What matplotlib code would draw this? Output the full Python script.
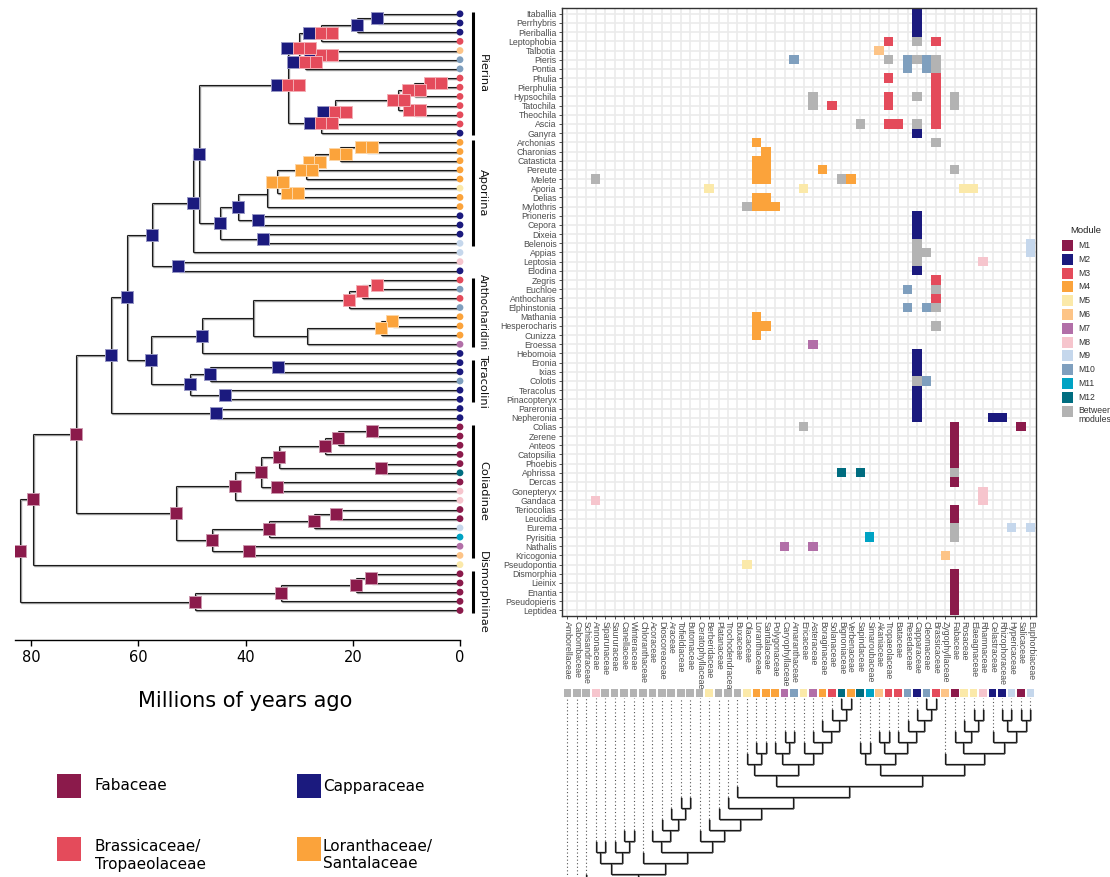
import matplotlib
matplotlib.use('Agg')
import matplotlib.pyplot as plt
import matplotlib.transforms as mtransforms
from matplotlib.collections import LineCollection
from matplotlib.patches import Rectangle

W, H = 1110, 877

# module colours
modules = ['M1', 'M2', 'M3', 'M4', 'M5', 'M6', 'M7', 'M8', 'M9', 'M10', 'M11', 'M12', 'B']
module_labels = ['M1', 'M2', 'M3', 'M4', 'M5', 'M6', 'M7', 'M8', 'M9', 'M10', 'M11', 'M12',
                 'Between\nmodules']
module_colors = ['#8b1a4b', '#1b1a7e', '#e44b5b', '#fba33b', '#fbe9a9', '#fdc487', '#b26fa8',
                 '#f6c5cd', '#c5d7ec', '#7f9fbe', '#00a3c4', '#006d80', '#b3b3b3']
mcol = dict(zip(modules, module_colors))

# butterfly genera (rows) and their module
genera = ['Itaballia', 'Perrhybris', 'Pieriballia', 'Leptophobia', 'Talbotia', 'Pieris', 'Pontia',
          'Phulia', 'Pierphulia', 'Hypsochila', 'Tatochila', 'Theochila', 'Ascia', 'Ganyra',
          'Archonias', 'Charonias', 'Catasticta', 'Pereute', 'Melete', 'Aporia', 'Delias',
          'Mylothris', 'Prioneris', 'Cepora', 'Dixeia', 'Belenois', 'Appias', 'Leptosia', 'Elodina',
          'Zegris', 'Euchloe', 'Anthocharis', 'Elphinstonia', 'Mathania', 'Hesperocharis', 'Cunizza',
          'Eroessa', 'Hebomoia', 'Eronia', 'Ixias', 'Colotis', 'Teracolus', 'Pinacopteryx',
          'Pareronia', 'Nepheronia', 'Colias', 'Zerene', 'Anteos', 'Catopsilia', 'Phoebis',
          'Aphrissa', 'Dercas', 'Gonepteryx', 'Gandaca', 'Teriocolias', 'Leucidia', 'Eurema',
          'Pyrisitia', 'Nathalis', 'Kricogonia', 'Pseudopontia', 'Dismorphia', 'Lieinix', 'Enantia',
          'Pseudopieris', 'Leptidea']
genus_module = ['M2', 'M2', 'M2', 'M3', 'M6', 'M10', 'M10', 'M3', 'M3', 'M3', 'M3', 'M3', 'M3', 'M2',
                'M4', 'M4', 'M4', 'M4', 'M4', 'M5', 'M4', 'M4', 'M2', 'M2', 'M2', 'M9', 'M9', 'M8', 'M2',
                'M3', 'M10', 'M3', 'M10', 'M4', 'M4', 'M4', 'M7', 'M2', 'M2', 'M2', 'M10', 'M2', 'M2',
                'M2', 'M2',
                'M1', 'M1', 'M1', 'M1', 'M1', 'M12', 'M1', 'M8', 'M8', 'M1', 'M1', 'M9', 'M11', 'M7',
                'M6', 'M5',
                'M1', 'M1', 'M1', 'M1', 'M1']

# plant families (columns) and their module
families = ['Amborellaceae', 'Cabombaceae', 'Schisandraceae', 'Annonaceae', 'Siparunaceae',
            'Saururaceae', 'Canellaceae', 'Winteraceae', 'Chloranthaceae', 'Acoraceae',
            'Dioscoreaceae', 'Araceae', 'Tofieldiaceae', 'Butomaceae', 'Ceratophyllaceae',
            'Berberidaceae', 'Platanaceae', 'Trochodendraceae', 'Buxaceae', 'Olacaceae',
            'Loranthaceae', 'Santalaceae', 'Polygonaceae', 'Caryophyllaceae', 'Amaranthaceae',
            'Ericaceae', 'Asteraceae', 'Boraginaceae', 'Solanaceae', 'Bignoniaceae', 'Verbenaceae',
            'Sapindaceae', 'Simaroubaceae', 'Akaniaceae', 'Tropaeolaceae', 'Bataceae', 'Resedaceae',
            'Capparaceae', 'Cleomaceae', 'Brassicaceae', 'Zygophyllaceae', 'Fabaceae', 'Rosaceae',
            'Elaeagnaceae', 'Rhamnaceae', 'Celastraceae', 'Rhizophoraceae', 'Hypericaceae',
            'Salicaceae', 'Euphorbiaceae']
family_module = ['B', 'B', 'B', 'M8', 'B', 'B', 'B', 'B', 'B', 'B', 'B', 'B', 'B', 'B', 'B',
                 'M5', 'B', 'B', 'B', 'M5', 'M4', 'M4', 'M4', 'M7', 'M10', 'M5', 'M7', 'M4', 'M3',
                 'M12', 'M4', 'M12', 'M11', 'M6', 'M3', 'M3', 'M10', 'M2', 'M10', 'M3', 'M6', 'M1',
                 'M5', 'M5', 'M8', 'M2', 'M2', 'M9', 'M1', 'M9']

# interactions (genus, family) by module
links_m1 = [('Colias', 'Fabaceae'), ('Colias', 'Salicaceae'), ('Zerene', 'Fabaceae'),
            ('Anteos', 'Fabaceae'), ('Catopsilia', 'Fabaceae'), ('Phoebis', 'Fabaceae'),
            ('Dercas', 'Fabaceae'), ('Teriocolias', 'Fabaceae'), ('Leucidia', 'Fabaceae'),
            ('Dismorphia', 'Fabaceae'), ('Lieinix', 'Fabaceae'), ('Enantia', 'Fabaceae'),
            ('Pseudopieris', 'Fabaceae'), ('Leptidea', 'Fabaceae')]
links_m2 = [('Itaballia', 'Capparaceae'), ('Perrhybris', 'Capparaceae'), ('Pieriballia', 'Capparaceae'),
            ('Ganyra', 'Capparaceae'), ('Prioneris', 'Capparaceae'), ('Cepora', 'Capparaceae'),
            ('Dixeia', 'Capparaceae'), ('Elodina', 'Capparaceae'), ('Hebomoia', 'Capparaceae'),
            ('Eronia', 'Capparaceae'), ('Ixias', 'Capparaceae'), ('Teracolus', 'Capparaceae'),
            ('Pinacopteryx', 'Capparaceae'), ('Pareronia', 'Capparaceae'),
            ('Nepheronia', 'Capparaceae'), ('Nepheronia', 'Celastraceae'),
            ('Nepheronia', 'Rhizophoraceae')]
links_m3 = [('Leptophobia', 'Tropaeolaceae'), ('Leptophobia', 'Brassicaceae'),
            ('Phulia', 'Tropaeolaceae'), ('Phulia', 'Brassicaceae'), ('Pierphulia', 'Brassicaceae'),
            ('Hypsochila', 'Tropaeolaceae'), ('Hypsochila', 'Brassicaceae'),
            ('Tatochila', 'Solanaceae'), ('Tatochila', 'Tropaeolaceae'), ('Tatochila', 'Brassicaceae'),
            ('Theochila', 'Brassicaceae'), ('Ascia', 'Tropaeolaceae'), ('Ascia', 'Bataceae'),
            ('Ascia', 'Brassicaceae'), ('Zegris', 'Brassicaceae'), ('Anthocharis', 'Brassicaceae')]
links_m4 = [('Archonias', 'Loranthaceae'), ('Charonias', 'Santalaceae'),
            ('Catasticta', 'Loranthaceae'), ('Catasticta', 'Santalaceae'),
            ('Pereute', 'Loranthaceae'), ('Pereute', 'Santalaceae'), ('Pereute', 'Boraginaceae'),
            ('Melete', 'Loranthaceae'), ('Melete', 'Santalaceae'), ('Melete', 'Verbenaceae'),
            ('Delias', 'Loranthaceae'), ('Delias', 'Santalaceae'),
            ('Mylothris', 'Loranthaceae'), ('Mylothris', 'Santalaceae'), ('Mylothris', 'Polygonaceae'),
            ('Mathania', 'Loranthaceae'), ('Hesperocharis', 'Loranthaceae'),
            ('Hesperocharis', 'Santalaceae'), ('Cunizza', 'Loranthaceae')]
links_m5 = [('Aporia', 'Berberidaceae'), ('Aporia', 'Ericaceae'), ('Aporia', 'Rosaceae'),
            ('Aporia', 'Elaeagnaceae'), ('Pseudopontia', 'Olacaceae')]
links_m6 = [('Talbotia', 'Akaniaceae'), ('Kricogonia', 'Zygophyllaceae')]
links_m7 = [('Eroessa', 'Asteraceae'), ('Nathalis', 'Caryophyllaceae'), ('Nathalis', 'Asteraceae')]
links_m8 = [('Leptosia', 'Rhamnaceae'), ('Gonepteryx', 'Rhamnaceae'), ('Gandaca', 'Annonaceae'),
            ('Gandaca', 'Rhamnaceae')]
links_m9 = [('Belenois', 'Euphorbiaceae'), ('Appias', 'Euphorbiaceae'), ('Eurema', 'Hypericaceae'),
            ('Eurema', 'Euphorbiaceae')]
links_m10 = [('Pieris', 'Amaranthaceae'), ('Pieris', 'Resedaceae'), ('Pieris', 'Cleomaceae'),
             ('Pontia', 'Resedaceae'), ('Pontia', 'Cleomaceae'), ('Euchloe', 'Resedaceae'),
             ('Elphinstonia', 'Resedaceae'), ('Elphinstonia', 'Cleomaceae'), ('Colotis', 'Cleomaceae')]
links_m11 = [('Pyrisitia', 'Simaroubaceae')]
links_m12 = [('Aphrissa', 'Bignoniaceae'), ('Aphrissa', 'Sapindaceae')]
links_between = [('Leptophobia', 'Capparaceae'), ('Pieris', 'Tropaeolaceae'), ('Pieris', 'Capparaceae'),
                 ('Pieris', 'Brassicaceae'), ('Pontia', 'Brassicaceae'), ('Hypsochila', 'Asteraceae'),
                 ('Hypsochila', 'Capparaceae'), ('Hypsochila', 'Fabaceae'), ('Tatochila', 'Asteraceae'),
                 ('Tatochila', 'Fabaceae'), ('Ascia', 'Sapindaceae'), ('Ascia', 'Capparaceae'),
                 ('Archonias', 'Brassicaceae'), ('Pereute', 'Fabaceae'), ('Melete', 'Annonaceae'),
                 ('Melete', 'Bignoniaceae'), ('Mylothris', 'Olacaceae'), ('Belenois', 'Capparaceae'),
                 ('Appias', 'Capparaceae'), ('Appias', 'Cleomaceae'), ('Leptosia', 'Capparaceae'),
                 ('Euchloe', 'Brassicaceae'), ('Elphinstonia', 'Brassicaceae'),
                 ('Hesperocharis', 'Brassicaceae'), ('Colotis', 'Capparaceae'), ('Colias', 'Ericaceae'),
                 ('Aphrissa', 'Fabaceae'), ('Eurema', 'Fabaceae'), ('Pyrisitia', 'Fabaceae')]
links_by_module = [links_m1, links_m2, links_m3, links_m4, links_m5, links_m6, links_m7, links_m8,
                   links_m9, links_m10, links_m11, links_m12, links_between]

# butterfly phylogeny: (age in Myr, children, ancestral module squares)
n1 = (15.5, ['Itaballia', 'Perrhybris'], ['M2'])
n2 = (19.3, [n1, 'Pieriballia'], ['M2'])
n3 = (26.0, [n2, 'Leptophobia'], ['M2', 'M3', 'M3'])
n56 = (25.9, ['Talbotia', 'Pieris'], ['M2', 'M3', 'M3'])
n567 = (29.0, [n56, 'Pontia'], ['M2', 'M3', 'M3'])
npier1 = (30.1, [n3, n567], ['M2', 'M3', 'M3'])
l1 = (4.6, ['Phulia', 'Pierphulia'], ['M3', 'M3'])
l2 = (8.6, [l1, 'Hypsochila'], ['M3', 'M3'])
l3 = (8.5, ['Tatochila', 'Theochila'], ['M3', 'M3'])
l4 = (11.5, [l2, l3], ['M3', 'M3'])
l5 = (23.4, [l4, 'Ascia'], ['M2', 'M3', 'M3'])
l6 = (25.9, [l5, 'Ganyra'], ['M2', 'M3', 'M3'])
pierina = (32.1, [npier1, l6], ['M2', 'M3', 'M3'])
a1 = (17.5, ['Archonias', 'Charonias'], ['M4', 'M4'])
a2 = (22.3, [a1, 'Catasticta'], ['M4', 'M4'])
a3 = (27.1, [a2, 'Pereute'], ['M4', 'M4'])
a4 = (28.7, [a3, 'Melete'], ['M4', 'M4'])
a5 = (31.2, ['Aporia', 'Delias'], ['M4', 'M4'])
a6 = (34.1, [a4, a5], ['M4', 'M4'])
a7 = (36.1, [a6, 'Mylothris'], [])
a8 = (37.7, ['Prioneris', 'Cepora'], ['M2'])
a9 = (41.5, [a7, a8], ['M2'])
a10 = (36.7, ['Dixeia', 'Belenois'], ['M2'])
a11 = (44.7, [a9, a10], ['M2'])
nx = (48.7, [pierina, a11], ['M2'])
ny = (49.9, [nx, 'Appias'], ['M2'])
nle = (52.6, ['Leptosia', 'Elodina'], ['M2'])
nz = (57.5, [ny, nle], ['M2'])
h1 = (15.4, ['Zegris', 'Euchloe'], ['M3'])
h2 = (18.3, [h1, 'Anthocharis'], ['M3'])
h3 = (20.7, [h2, 'Elphinstonia'], ['M3'])
h4 = (12.7, ['Mathania', 'Hesperocharis'], ['M4'])
h5 = (14.7, [h4, 'Cunizza'], ['M4'])
h6 = (28.5, [h5, 'Eroessa'], [])
h7 = (38.6, [h3, h6], [])
h8 = (48.1, [h7, 'Hebomoia'], ['M2'])
t1 = (34.0, ['Eronia', 'Ixias'], ['M2'])
t2 = (46.7, [t1, 'Colotis'], ['M2'])
t3 = (43.8, ['Teracolus', 'Pinacopteryx'], ['M2'])
t4 = (50.4, [t2, t3], ['M2'])
nv = (57.6, [h8, t4], ['M2'])
nw = (62.2, [nz, nv], ['M2'])
npn = (45.5, ['Pareronia', 'Nepheronia'], ['M2'])
nu = (65.1, [nw, npn], ['M2'])
c1 = (16.4, ['Colias', 'Zerene'], ['M1'])
c2 = (22.8, [c1, 'Anteos'], ['M1'])
c3 = (25.2, [c2, 'Catopsilia'], ['M1'])
c4 = (14.7, ['Phoebis', 'Aphrissa'], ['M1'])
c5 = (33.7, [c3, c4], ['M1'])
c6 = (34.1, ['Dercas', 'Gonepteryx'], ['M1'])
c7 = (37.1, [c5, c6], ['M1'])
c8 = (41.9, [c7, 'Gandaca'], ['M1'])
c9 = (23.1, ['Teriocolias', 'Leucidia'], ['M1'])
c10 = (27.2, [c9, 'Eurema'], ['M1'])
c11 = (35.6, [c10, 'Pyrisitia'], ['M1'])
c12 = (39.4, ['Nathalis', 'Kricogonia'], ['M1'])
c13 = (46.3, [c11, c12], ['M1'])
coliadinae = (53.0, [c8, c13], ['M1'])
ns = (71.6, [nu, coliadinae], ['M1'])
nr = (79.6, [ns, 'Pseudopontia'], ['M1'])
d1 = (16.6, ['Dismorphia', 'Lieinix'], ['M1'])
d2 = (19.4, [d1, 'Enantia'], ['M1'])
d3 = (33.4, [d2, 'Pseudopieris'], ['M1'])
d4 = (49.4, [d3, 'Leptidea'], ['M1'])
butterfly_tree = (82.1, [nr, d4], ['M1'])

clade_names = ['Pierina', 'Aporiina', 'Anthocharidini', 'Teracolini', 'Coliadinae', 'Dismorphiinae']
clade_first = ['Itaballia', 'Archonias', 'Zegris', 'Eronia', 'Colias', 'Dismorphia']
clade_last = ['Ganyra', 'Belenois', 'Eroessa', 'Pinacopteryx', 'Kricogonia', 'Leptidea']

# plant phylogeny (cladogram)
asterids = ('Ericaceae', ('Asteraceae', ('Boraginaceae', ('Solanaceae', ('Bignoniaceae', 'Verbenaceae')))))
caryo = ('Polygonaceae', ('Caryophyllaceae', 'Amaranthaceae'))
santal = ('Olacaceae', ('Loranthaceae', 'Santalaceae'))
brassicales = (('Akaniaceae', 'Tropaeolaceae'),
               ('Bataceae', ('Resedaceae', ('Capparaceae', ('Cleomaceae', 'Brassicaceae')))))
rosids_b = ('Zygophyllaceae', (('Fabaceae', ('Rosaceae', ('Elaeagnaceae', 'Rhamnaceae'))),
                               ('Celastraceae', (('Rhizophoraceae', 'Hypericaceae'),
                                                 ('Salicaceae', 'Euphorbiaceae')))))
core = ((santal, (caryo, asterids)), ((('Sapindaceae', 'Simaroubaceae'), brassicales), rosids_b))
eudicots = ('Ceratophyllaceae', ('Berberidaceae', ('Platanaceae', ('Trochodendraceae', ('Buxaceae', core)))))
monocots = ('Acoraceae', ('Dioscoreaceae', ('Araceae', ('Tofieldiaceae', 'Butomaceae'))))
magnoliids = (('Annonaceae', 'Siparunaceae'), ('Saururaceae', ('Canellaceae', 'Winteraceae')))
plant_tree = ('Amborellaceae', ('Cabombaceae', ('Schisandraceae',
              (magnoliids, ('Chloranthaceae', (monocots, eudicots))))))

legend_labels = ['Fabaceae', 'Capparaceae', 'Brassicaceae/\nTropaeolaceae', 'Loranthaceae/\nSantalaceae']
legend_modules = ['M1', 'M2', 'M3', 'M4']

time_ticks = [80, 60, 40, 20, 0]


def fx(px):
    return px / W


def fy(py):
    return 1 - py / H


def tree_segments(node, segs, marks):
    if isinstance(node, str):
        return 0.0, genera.index(node)
    age, kids, squares = node
    ys = []
    for kid in kids:
        kage, ky = tree_segments(kid, segs, marks)
        segs.append([(age, ky), (kage, ky)])
        ys.append(ky)
    segs.append([(age, min(ys)), (age, max(ys))])
    y = (min(ys) + max(ys)) / 2
    marks.append((age, y, squares))
    return age, y


def plant_segments(node, depth, segs, tips):
    if isinstance(node, str):
        x = families.index(node)
        tips.append((x, depth))
        return x
    xs = [plant_segments(k, depth + 1, segs, tips) for k in node]
    for x in xs:
        segs.append([(x, depth), (x, depth + 1)])
    segs.append([(min(xs), depth), (max(xs), depth)])
    return (min(xs) + max(xs)) / 2


def lighter(c, f=0.5):
    r, g, b = matplotlib.colors.to_rgb(c)
    return (r + (1 - r) * f, g + (1 - g) * f, b + (1 - b) * f)


fig = plt.figure(figsize=(W / 100, H / 100), dpi=100)

# ---------- heatmap ----------
hm_left, hm_right, hm_top, hm_bottom = 561.7, 1036, 8.3, 616
ax = fig.add_axes([fx(hm_left), fy(hm_bottom), fx(hm_right - hm_left), (hm_bottom - hm_top) / H])
ax.set_xlim(-0.6, len(families) - 0.4)
ax.set_ylim(len(genera) - 0.4, -0.6)
ax.set_axisbelow(True)
ax.grid(True, color='#ebebeb', lw=1.2)
for mod, links in zip(modules, links_by_module):
    for g, f in links:
        ax.add_patch(Rectangle((families.index(f) - 0.5, genera.index(g) - 0.5), 1, 1,
                               facecolor=mcol[mod], edgecolor='none', zorder=2))
ax.set_xticks(range(len(families)))
ax.set_xticklabels(families, rotation=270, ha='center', va='top', fontsize=6.3,
                   color='#4d4d4d', fontfamily='Liberation Sans')
ax.set_yticks(range(len(genera)))
ax.set_yticklabels(genera, fontsize=6.3, color='#4d4d4d', fontfamily='Liberation Sans')
ax.tick_params(length=2.2, width=0.6, color='#333333', pad=1.5)
for sp in ax.spines.values():
    sp.set_color('#333333')
    sp.set_linewidth(1.0)

# module legend
fig.text(fx(1070), fy(230), 'Module', fontsize=6.8, color='#222222', va='center',
         fontfamily='Liberation Sans')
for k, (lab, col) in enumerate(zip(module_labels, module_colors)):
    yc = 245.5 + 13.8 * k
    fig.add_artist(Rectangle((fx(1062), fy(yc + 5.5)), fx(11), 11 / H, facecolor=col,
                             edgecolor='none', transform=fig.transFigure))
    if '\n' in lab:
        fig.text(fx(1078), fy(yc - 5.5), lab, fontsize=6.2, color='#333333', va='top',
                 fontfamily='Liberation Sans', linespacing=1.05)
    else:
        fig.text(fx(1078), fy(yc), lab, fontsize=6.2, color='#333333', va='center',
                 fontfamily='Liberation Sans')

# ---------- butterfly tree ----------
tr_left, tr_right = 15, 500
px_per_myr = 5.36
age_left = (460 - tr_left) / px_per_myr
age_right = (460 - tr_right) / px_per_myr
at = fig.add_axes([fx(tr_left), fy(hm_bottom), fx(tr_right - tr_left), (hm_bottom - hm_top) / H])
at.set_xlim(age_left, age_right)
at.set_ylim(len(genera) - 0.4, -0.6)
at.patch.set_visible(False)

segs, marks = [], []
tree_segments(butterfly_tree, segs, marks)
shadow = at.transData + mtransforms.ScaledTranslation(1 / 100, -1 / 100, fig.dpi_scale_trans)
at.add_collection(LineCollection(segs, colors='#9a9a9a', linewidths=1.0, transform=shadow, zorder=1))
at.add_collection(LineCollection(segs, colors='#1a1a1a', linewidths=0.8, zorder=2))

sq_w = 11.3 / px_per_myr
for age, y, squares in marks:
    n = len(squares)
    for i, m in enumerate(squares):
        a = age - (i - (n - 1) / 2) * sq_w
        at.scatter([a], [y], marker='s', s=70, color=mcol[m], edgecolors=[lighter(mcol[m], 0.55)],
                   linewidths=0.7, zorder=4)

at.scatter([0] * len(genera), range(len(genera)), s=24, c=[mcol[m] for m in genus_module],
           zorder=5, linewidths=0)

bar_age = (460 - 473.5) / px_per_myr
text_age = (460 - 483) / px_per_myr
for name, g0, g1 in zip(clade_names, clade_first, clade_last):
    y0, y1 = genera.index(g0) - 0.25, genera.index(g1) + 0.25
    at.plot([bar_age, bar_age], [y0, y1], color='black', lw=2.2, solid_capstyle='butt', clip_on=False)
    at.text(text_age, (y0 + y1) / 2, name, rotation=270, ha='center', va='center',
            fontsize=7.5 if name == 'Anthocharidini' else 8.2, color='#111111')

for s in ['top', 'right', 'left']:
    at.spines[s].set_visible(False)
at.spines['bottom'].set_position(('outward', 24 * 0.72))
at.spines['bottom'].set_bounds(age_left, 0)
at.spines['bottom'].set_linewidth(1.0)
at.set_yticks([])
at.set_xticks(time_ticks)
at.set_xticklabels([str(t) for t in time_ticks], fontsize=10.5)
at.tick_params(axis='x', length=4, width=1, pad=3)
fig.text(fx(245), fy(701), 'Millions of years ago', fontsize=15, ha='center', va='center')

# host legend
for k, (lab, m) in enumerate(zip(legend_labels, legend_modules)):
    col, row = k % 2, k // 2
    x0 = 57 + 240 * col
    yc = 786 + 63 * row
    fig.add_artist(Rectangle((fx(x0), fy(yc + 12)), fx(24), 24 / H, facecolor=mcol[m],
                             edgecolor='none', transform=fig.transFigure))
    fig.text(fx(x0 + 38 - 12 * col), fy(yc + 6 * row), lab, fontsize=11, va='center', ha='left',
             linespacing=1.25)

# ---------- plant tree ----------
pl_top = 686
ap = fig.add_axes([fx(hm_left), 0, fx(hm_right - hm_left), (H - pl_top) / H])
ap.set_xlim(-0.6, len(families) - 0.4)
psegs, ptips = [], []
plant_segments(plant_tree, 0, psegs, ptips)
max_depth = max(d for _, d in ptips)
step = 11.0
ap.set_ylim(max_depth - (H - 698.3) / step, max_depth + (698.3 - pl_top) / step)
ap.axis('off')
ap.patch.set_visible(False)
pshadow = ap.transData + mtransforms.ScaledTranslation(1 / 100, -1 / 100, fig.dpi_scale_trans)
ap.add_collection(LineCollection(psegs, colors='#8c8c8c', linewidths=1.3, transform=pshadow, zorder=1))
ap.add_collection(LineCollection(psegs, colors='#1a1a1a', linewidths=0.9, zorder=2))
dots = [[(x, d), (x, max_depth)] for x, d in ptips if d < max_depth]
ap.add_collection(LineCollection(dots, colors='#555555', linewidths=0.8, linestyles=(0, (1, 2.2)),
                                 zorder=1))
ap.scatter(range(len(families)), [max_depth + 0.5] * len(families), marker='s', s=30,
           c=[mcol[m] for m in family_module], linewidths=0, zorder=3, clip_on=False)

fig.savefig('out.png', dpi=100)
